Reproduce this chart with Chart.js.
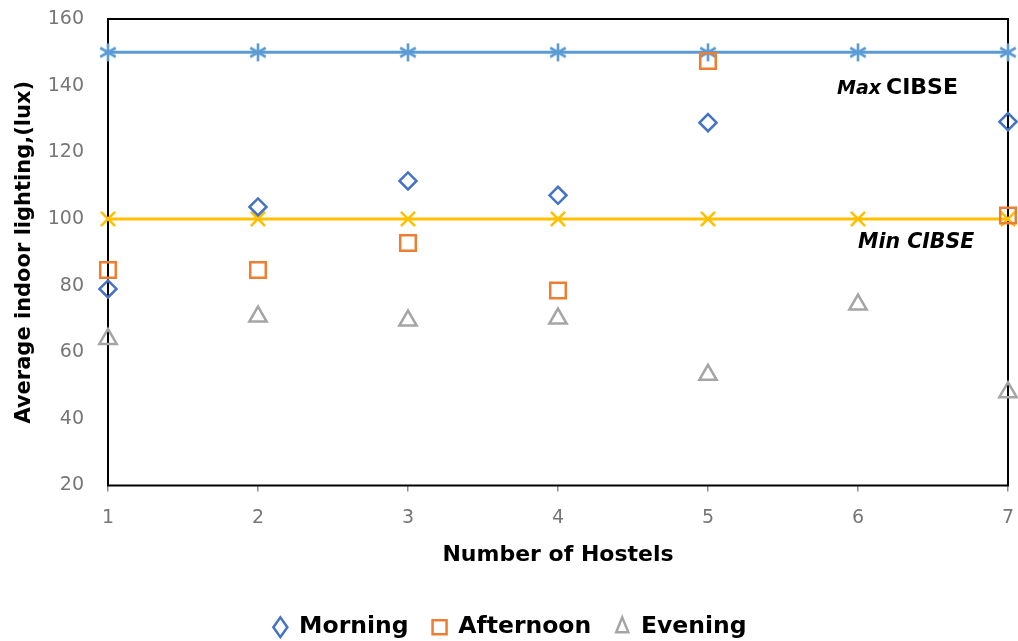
<!DOCTYPE html>
<html>
<head>
<meta charset="utf-8">
<script src="https://cdn.jsdelivr.net/npm/chart.js@4.4.1/dist/chart.umd.min.js"></script>
<style>
  html, body { margin: 0; padding: 0; background: #fff; }
  #wrap { width: 1018px; height: 641px; position: relative; }
</style>
</head>
<body>
<div id="wrap"><canvas id="chart" width="1018" height="641"></canvas></div>
<script>
// Hostel numbers along the x axis
const hostels = [1, 2, 3, 4, 5, 6, 7];
// Average indoor lighting (lux) by time of day; null where no reading
const morning   = [79, 103.6, 111.4, 107.1, 128.9, null, 129.2];
const afternoon = [84.7, 84.7, 92.8, 78.5, 147.4, null, 101];
const evening   = [64, 70.7, 69.5, 70.1, 53.2, 74.3, 48];
// CIBSE recommended limits
const maxCibse = [150, 150, 150, 150, 150, 150, 150];
const minCibse = [100, 100, 100, 100, 100, 100, 100];
const yTicks = [20, 40, 60, 80, 100, 120, 140, 160];

const FONT = '"DejaVu Sans", sans-serif';
const pts = vals => hostels.map((h, i) => ({ x: h, y: vals[i] }));

// Six-armed asterisk marker for the upper limit line
function asteriskMarker(color) {
  const c = document.createElement('canvas');
  c.width = 20; c.height = 20;
  const g = c.getContext('2d');
  g.strokeStyle = color;
  g.lineWidth = 2.6;
  g.lineCap = 'butt';
  const r = 9;
  [90, 30, 150].forEach(deg => {
    const a = deg * Math.PI / 180;
    g.beginPath();
    g.moveTo(10 - r * Math.cos(a), 10 - r * Math.sin(a));
    g.lineTo(10 + r * Math.cos(a), 10 + r * Math.sin(a));
    g.stroke();
  });
  return c;
}

// Frame around the plot area, drawn beneath the markers
const framePlugin = {
  id: 'frame',
  beforeDatasetsDraw(chart) {
    const { ctx, chartArea: a } = chart;
    ctx.save();
    ctx.strokeStyle = '#000';
    ctx.lineWidth = 2;
    ctx.strokeRect(a.left, a.top, a.right - a.left, a.bottom - a.top);
    ctx.restore();
  }
};

// Labels for the two CIBSE reference lines
const limitLabels = {
  id: 'limitLabels',
  afterDatasetsDraw(chart) {
    const { ctx, scales: { x, y } } = chart;
    ctx.save();
    ctx.fillStyle = '#000';
    ctx.textBaseline = 'middle';
    ctx.textAlign = 'left';
    // "Max CIBSE"
    let px = x.getPixelForValue(5.86), py = y.getPixelForValue(139.3);
    ctx.font = 'italic bold 19px ' + FONT;
    ctx.fillText('Max', px, py + 1);
    const w = ctx.measureText('Max').width;
    ctx.font = 'bold 22px ' + FONT;
    ctx.fillText('CIBSE', px + w + 5, py);
    // "Min CIBSE"
    px = x.getPixelForValue(6.0); py = y.getPixelForValue(92.85);
    ctx.font = 'italic bold 20.5px ' + FONT;
    ctx.fillText('Min CIBSE', px, py);
    ctx.restore();
  }
};

new Chart(document.getElementById('chart'), {
  type: 'scatter',
  data: {
    datasets: [
      {
        label: 'Max CIBSE', data: pts(maxCibse), showLine: true,
        borderColor: '#5B9BD5', backgroundColor: '#5B9BD5', borderWidth: 3,
        pointStyle: asteriskMarker('#5B9BD5'), pointRadius: 10, clip: false, order: 5
      },
      {
        label: 'Min CIBSE', data: pts(minCibse), showLine: true,
        borderColor: '#FFC000', backgroundColor: '#FFC000', borderWidth: 3,
        pointStyle: 'crossRot', pointRadius: 10, pointBorderWidth: 2.5, clip: false, order: 4
      },
      {
        label: 'Morning', data: pts(morning),
        borderColor: '#4472C4', backgroundColor: 'rgba(255,255,255,0)',
        pointStyle: 'rectRot', pointRadius: 8.5, pointBorderWidth: 2.5, clip: false, order: 1
      },
      {
        label: 'Afternoon', data: pts(afternoon),
        borderColor: '#ED7D31', backgroundColor: 'rgba(255,255,255,0)',
        pointStyle: 'rect', pointRadius: 11, pointBorderWidth: 2.5, clip: false, order: 2
      },
      {
        label: 'Evening', data: pts(evening),
        borderColor: '#A5A5A5', backgroundColor: 'rgba(255,255,255,0)',
        pointStyle: 'triangle', pointRadius: 10, pointBorderWidth: 2.5, clip: false, order: 3
      }
    ]
  },
  options: {
    responsive: false,
    animation: false,
    layout: { autoPadding: false, padding: { top: 19, right: 10, left: 12, bottom: -8 } },
    plugins: {
      tooltip: { enabled: false },
      legend: {
        position: 'bottom',
        labels: {
          filter: item => ['Morning', 'Afternoon', 'Evening'].includes(item.text),
          usePointStyle: true,
          pointStyleWidth: 14,
          color: '#000',
          font: { family: FONT, size: 23.5, weight: 'bold' },
          padding: 24,
          boxHeight: 14
        }
      }
    },
    scales: {
      x: {
        type: 'linear', min: 1, max: 7,
        afterBuildTicks: s => { s.ticks = hostels.map(v => ({ value: v })); },
        afterFit: s => { s.height = 106; s.paddingLeft = 0; s.paddingRight = 0; },
        border: { display: false },
        grid: { drawOnChartArea: false, drawTicks: true, tickLength: 6, color: '#8c8c8c', lineWidth: 1.5 },
        ticks: { color: '#767676', font: { family: FONT, size: 19 }, padding: 15 },
        title: {
          display: true, text: 'Number of Hostels', color: '#000',
          font: { family: FONT, size: 22, weight: 'bold' }, padding: { top: 0, bottom: 23 }
        }
      },
      y: {
        min: 20, max: 160,
        afterBuildTicks: s => { s.ticks = yTicks.map(v => ({ value: v })); },
        afterFit: s => { s.width = 96; s.paddingTop = 0; s.paddingBottom = 0; },
        border: { display: false },
        grid: { display: false },
        ticks: { color: '#767676', font: { family: FONT, size: 19 }, padding: 16 },
        title: {
          display: true, text: 'Average indoor lighting,(lux)', color: '#000',
          font: { family: FONT, size: 21, weight: 'bold' }, padding: { top: 0, bottom: 0 }
        }
      }
    }
  },
  plugins: [framePlugin, limitLabels]
});
</script>
</body>
</html>
